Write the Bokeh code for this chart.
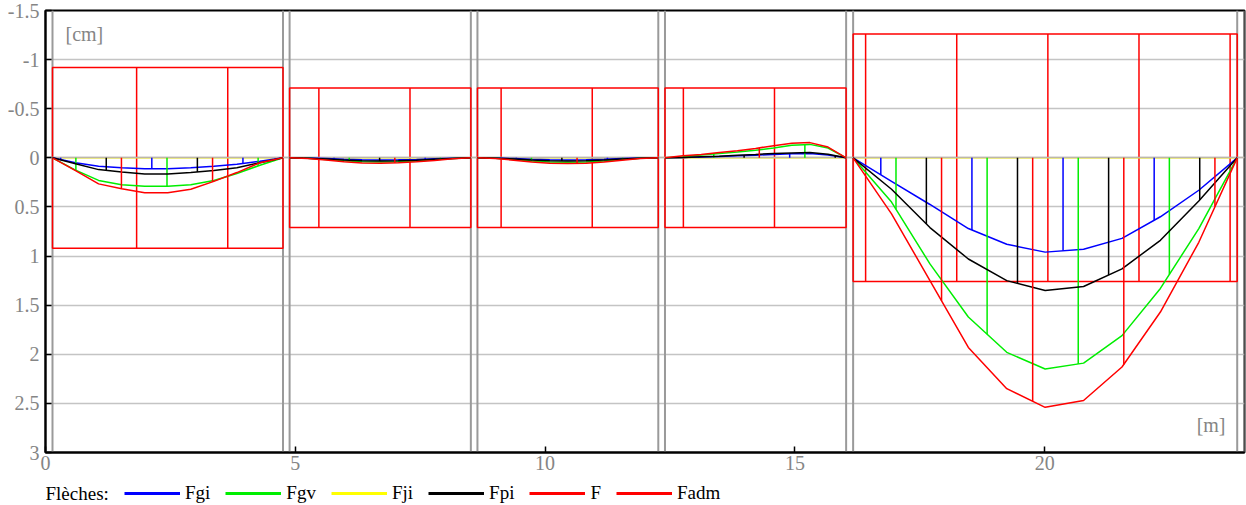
import numpy as np
from bokeh.plotting import figure
from bokeh.layouts import column
from bokeh.models import Range1d, Span, FixedTicker, Legend, LegendItem, Label
from bokeh.embed import file_html
from bokeh.resources import INLINE

# ---------------- data ----------------
# support (wall) faces along the beam [m]
SUPPORT_LEFT = [0.0, 4.754, 8.514, 12.266, 16.026, 23.854]
SUPPORT_RIGHT = [0.14, 4.886, 8.646, 12.40, 16.166, 24.0]

# admissible deflection per span [cm]
FADM = [0.92, 0.71, 0.71, 0.71, 1.26]

# deflections at 11 stations per span [cm] (positive = downward)
FGI = [
    [0, 0.05, 0.085, 0.10, 0.11, 0.11, 0.10, 0.085, 0.065, 0.035, 0],
    [0, 0.002, 0.008, 0.015, 0.02, 0.022, 0.02, 0.016, 0.01, 0.004, 0],
    [0, 0.002, 0.008, 0.015, 0.02, 0.022, 0.02, 0.015, 0.008, 0.002, 0],
    [0, -0.003, -0.008, -0.014, -0.02, -0.027, -0.035, -0.042, -0.045, -0.03, 0],
    [0, 0.24, 0.475, 0.72, 0.88, 0.96, 0.93, 0.82, 0.60, 0.33, 0],
]
FGV = [
    [0, 0.125, 0.23, 0.275, 0.29, 0.29, 0.275, 0.23, 0.16, 0.075, 0],
    [0, 0.004, 0.016, 0.03, 0.04, 0.043, 0.04, 0.032, 0.02, 0.008, 0],
    [0, 0.004, 0.016, 0.032, 0.042, 0.045, 0.042, 0.032, 0.016, 0.004, 0],
    [0, -0.012, -0.03, -0.045, -0.06, -0.077, -0.10, -0.127, -0.137, -0.10, 0],
    [0, 0.45, 1.08, 1.62, 1.98, 2.15, 2.09, 1.81, 1.33, 0.72, 0],
]
FJI = [
    [0] * 11,
    [0] * 11,
    [0] * 11,
    [0] * 11,
    [0] * 11,
]
FPI = [
    [0, 0.06, 0.12, 0.145, 0.165, 0.165, 0.15, 0.13, 0.10, 0.05, 0],
    [0, 0.003, 0.012, 0.022, 0.03, 0.032, 0.03, 0.024, 0.015, 0.006, 0],
    [0, 0.003, 0.012, 0.022, 0.03, 0.033, 0.03, 0.022, 0.012, 0.003, 0],
    [0, -0.003, -0.01, -0.017, -0.027, -0.035, -0.045, -0.05, -0.055, -0.037, 0],
    [0, 0.32, 0.71, 1.03, 1.25, 1.35, 1.31, 1.13, 0.84, 0.44, 0],
]
F = [
    [0, 0.13, 0.265, 0.315, 0.355, 0.355, 0.32, 0.24, 0.15, 0.05, 0],
    [0, 0.006, 0.022, 0.04, 0.052, 0.055, 0.05, 0.04, 0.026, 0.01, 0],
    [0, 0.006, 0.024, 0.042, 0.054, 0.058, 0.054, 0.042, 0.024, 0.006, 0],
    [0, -0.02, -0.035, -0.055, -0.072, -0.096, -0.124, -0.148, -0.155, -0.11, 0],
    [0, 0.57, 1.25, 1.93, 2.35, 2.54, 2.47, 2.13, 1.57, 0.86, 0],
]

X_TICKS = [0, 5, 10, 15, 20]
Y_TICKS = [-1.5, -1, -0.5, 0, 0.5, 1, 1.5, 2, 2.5, 3]
Y_TICK_LABELS = ["-1.5", "-1", "-0.5", "0", "0.5", "1", "1.5", "2", "2.5", "3"]
Y_UNIT = "[cm]"
X_UNIT = "[m]"
LEGEND_TITLE = "Flèches:"
SERIES = ["Fgi", "Fgv", "Fji", "Fpi", "F", "Fadm"]

# ---------------- styles ----------------
COLORS = {"Fgi": "#0000ff", "Fgv": "#00ee00", "Fji": "#ffff00", "Fpi": "#000000",
          "F": "#ff0000", "Fadm": "#ff0000"}
HATCH_STEP = 1.824          # spacing of the hatch stems [m]
PHASE = {"Fadm": 0, "Fgi": 1, "Fgv": 2, "Fji": 3, "Fpi": 4, "F": 5}
FONT = "Liberation Serif"
GRAY = "#858585"

span_start = SUPPORT_RIGHT[:-1]
span_end = SUPPORT_LEFT[1:]

p = figure(width=1246, height=478, x_range=Range1d(0, 24), y_range=Range1d(3, -1.5),
           output_backend="svg", toolbar_location=None,
           min_border_left=45, min_border_right=2, min_border_top=10, min_border_bottom=26)
p.outline_line_color = "black"
p.outline_line_width = 2
p.background_fill_color = "white"

# axes
p.xaxis.ticker = FixedTicker(ticks=X_TICKS)
p.yaxis.ticker = FixedTicker(ticks=Y_TICKS)
p.yaxis.major_label_overrides = {t: l for t, l in zip(Y_TICKS, Y_TICK_LABELS)}
for ax in (p.xaxis[0], p.yaxis[0]):
    ax.axis_line_color = "black"
    ax.axis_line_width = 2
    ax.major_tick_in = 6
    ax.major_tick_out = 0
    ax.major_tick_line_color = "black"
    ax.major_tick_line_width = 1.5
    ax.minor_tick_line_color = None
    ax.major_label_text_font = FONT
    ax.major_label_text_font_size = "20px"
    ax.major_label_text_color = GRAY
p.xaxis.major_label_standoff = 3
p.yaxis.major_label_standoff = 6

p.xgrid.visible = False
p.ygrid.grid_line_color = "#c4c4c4"
p.ygrid.grid_line_width = 1.5

# supports
for xl, xr in zip(SUPPORT_LEFT, SUPPORT_RIGHT):
    for xs in (xl, xr):
        p.add_layout(Span(location=xs, dimension="height", line_color="#9a9a9a",
                          line_width=2, level="underlay"))

# Fadm boxes
fadm = np.array(FADM)
p.quad(left=span_start, right=span_end, top=-fadm, bottom=fadm,
       fill_color=None, line_color=COLORS["Fadm"], line_width=1.5)


def stems(phase):
    return HATCH_STEP * (np.arange(0, 15) + phase / 6.0)


# Fadm hatch
hx0, hy0, hy1 = [], [], []
for a, b, fa in zip(span_start, span_end, FADM):
    for x in stems(PHASE["Fadm"]):
        if a < x < b:
            hx0.append(x); hy0.append(-fa); hy1.append(fa)
p.segment(x0=hx0, y0=hy0, x1=hx0, y1=hy1, line_color=COLORS["Fadm"], line_width=1.5)

curves = {"Fji": FJI, "Fgi": FGI, "Fgv": FGV, "Fpi": FPI, "F": F}
for name in ["Fji", "Fgi", "Fgv", "Fpi", "F"]:
    data = curves[name]
    xs_all, ys_all = [], []
    sx, sy0, sy1 = [], [], []
    for a, b, vals in zip(span_start, span_end, data):
        st = np.linspace(a, b, len(vals))
        xs_all.append(list(st)); ys_all.append(list(vals))
        for x in stems(PHASE[name]):
            if a < x < b:
                sx.append(x); sy0.append(0.0); sy1.append(float(np.interp(x, st, vals)))
    p.segment(x0=sx, y0=sy0, x1=sx, y1=sy1, line_color=COLORS[name], line_width=1.5)
    p.multi_line(xs=xs_all, ys=ys_all, line_color=COLORS[name], line_width=1.5)
    if name == "Fji":
        # zero reference line drawn over the (null) Fji curve
        p.hspan(y=[0], line_color="#bdb6aa", line_width=1.6)

# unit labels
p.add_layout(Label(x=0.4, y=-1.26, text=Y_UNIT, text_font=FONT, text_font_size="20px",
                   text_color=GRAY, text_baseline="middle", text_align="left"))
p.add_layout(Label(x=23.62, y=2.72, text=X_UNIT, text_font=FONT, text_font_size="20px",
                   text_color=GRAY, text_baseline="middle", text_align="right"))

# ---------------- legend strip ----------------
leg = figure(width=1246, height=27, x_range=Range1d(0, 1), y_range=Range1d(0, 1),
             output_backend="svg", toolbar_location=None,
             x_axis_type=None, y_axis_type=None,
             min_border_left=0, min_border_right=0, min_border_top=0, min_border_bottom=0)
leg.outline_line_color = None
leg.xgrid.visible = False
leg.ygrid.visible = False

items = []
for name in SERIES:
    # legend proxy: an off-screen segment so the legend draws its line sample
    r = leg.line(x=[-5, -4], y=[-5, -5], line_color=COLORS[name], line_width=3)
    items.append(LegendItem(label=name, renderers=[r]))
legend = Legend(items=items, orientation="horizontal", location=(79, 1),
                glyph_width=56, glyph_height=6, label_height=22, label_standoff=5, spacing=15,
                padding=0, margin=0, border_line_color=None, background_fill_alpha=0,
                label_text_font=FONT, label_text_font_size="19px", label_text_color="black",
                label_width=0)
leg.add_layout(legend, "center")
leg.add_layout(Label(x=0, y=12, x_units="screen", y_units="screen", text=LEGEND_TITLE,
                     text_font=FONT, text_font_size="19px", text_color="black",
                     text_baseline="middle", text_align="left"))

open("out.html", "w").write(file_html(column(p, leg, spacing=0), INLINE))
